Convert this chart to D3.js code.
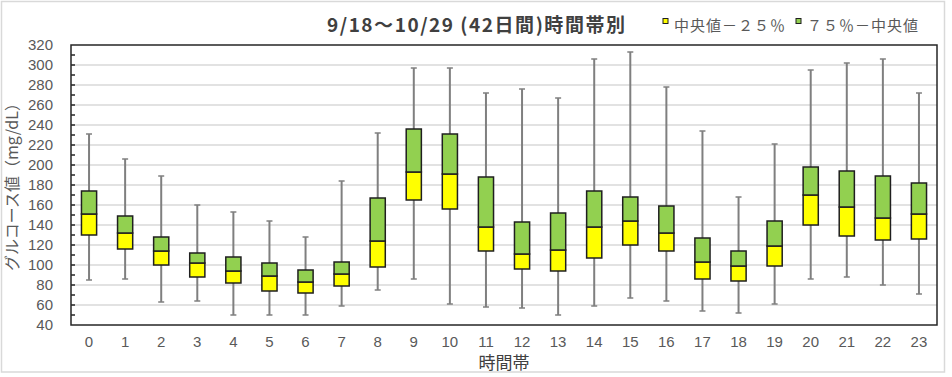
<!DOCTYPE html>
<html>
<head>
<meta charset="utf-8">
<script src="https://cdn.jsdelivr.net/npm/d3@7"></script>
<style>
  body{margin:0;background:#ffffff;}
  svg{display:block;}
  text{font-family:"Noto Sans CJK JP","Noto Sans",sans-serif;}
</style>
</head>
<body>
<div id="chart"></div>
<script>
//glucose by hour of day, box plot (25% / median / 75% with min-max whiskers)

var hours = ["0","1","2","3","4","5","6","7","8","9","10","11","12","13","14","15","16","17","18","19","20","21","22","23"];
var hi_vals  = [231,206,189,160,153,144,128,184,232,297,297,272,276,267,306,313,278,234,168,221,295,302,306,272];
var q3_vals  = [174,149,128,112,108,102, 95,103,167,236,231,188,143,152,174,168,159,127,114,144,198,194,189,182];
var med_vals = [151,132,114,102, 94, 89, 83, 91,124,193,191,138,111,115,138,144,132,103, 99,119,170,158,147,151];
var q1_vals  = [130,116,100, 88, 82, 74, 72, 79, 98,165,156,114, 96, 94,107,120,114, 86, 84, 99,140,129,125,126];
var lo_vals  = [ 85, 86, 63, 64, 50, 50, 50, 59, 75, 86, 61, 58, 57, 50, 59, 67, 64, 54, 52, 61, 86, 88, 80, 71];
var y_ticks = [40,60,80,100,120,140,160,180,200,220,240,260,280,300,320];

var title = "9/18～10/29 (42日間)時間帯別";
var legend_items = [
	{label:"中央値－２５％", color:"#ffff00"},
	{label:"７５％－中央値", color:"#92d050"}
];

var W = 952, H = 377;
var plot = {left:71, right:937, top:45, bottom:325};
var num_font = "'Liberation Sans',Arial,sans-serif";

var svg = d3.select("#chart").append("svg").attr("width",W).attr("height",H);

//outer chart border
svg.append("rect")
	.attr("x",1.5).attr("y",1.5).attr("width",943).attr("height",370.5)
	.attr("fill","#ffffff").attr("stroke","#d9d9d9").attr("stroke-width",1.5);

var rows = hours.map(function(h,i){
	return {hour:h, hi:hi_vals[i], q3:q3_vals[i], med:med_vals[i], q1:q1_vals[i], lo:lo_vals[i]};
});

var x = d3.scaleBand().domain(hours).range([plot.left, plot.right]).padding(0);
var y = d3.scaleLinear().domain([40,320]).range([plot.bottom, plot.top]);
var bw = x.bandwidth()*0.42;
var cx = function(d){return x(d.hour) + x.bandwidth()/2;};

//gridlines
svg.append("g").selectAll("line").data(y_ticks.slice(1,-1)).enter().append("line")
	.attr("x1",plot.left).attr("x2",plot.right)
	.attr("y1",function(d){return y(d)}).attr("y2",function(d){return y(d)})
	.attr("stroke","#d9d9d9").attr("stroke-width",1.5);

//y axis: labels left, minor ticks every 10 pointing inside
var yAxis = d3.axisLeft(y).tickValues(y_ticks).tickSize(0).tickPadding(18);
var gy = svg.append("g").attr("transform","translate("+plot.left+",0)").call(yAxis);
gy.select(".domain").remove();
gy.selectAll("text").attr("fill","#595959").style("font-size","15px")
	.style("font-family",num_font);

svg.append("g").selectAll("line").data(d3.range(50,320,10)).enter().append("line")
	.attr("x1",plot.left).attr("x2",plot.left+4)
	.attr("y1",function(d){return y(d)}).attr("y2",function(d){return y(d)})
	.attr("stroke","#262626").attr("stroke-width",1.5);

//x axis labels
var xAxis = d3.axisBottom(x).tickSize(0).tickPadding(11);
var gx = svg.append("g").attr("transform","translate(0,"+plot.bottom+")").call(xAxis);
gx.select(".domain").remove();
gx.selectAll("text").attr("fill","#595959").style("font-size","15px")
	.style("font-family",num_font);

//boxes
var boxes = svg.append("g").selectAll("g.box").data(rows).enter().append("g").classed("box",true);

boxes.append("line")
	.attr("x1",cx).attr("x2",cx)
	.attr("y1",function(d){return y(d.hi)}).attr("y2",function(d){return y(d.lo)})
	.attr("stroke","#7f7f7f").attr("stroke-width",2);

boxes.selectAll("line.cap").data(function(d){return [d.hi,d.lo].map(function(v){return {hour:d.hour,v:v}})})
	.enter().append("line").classed("cap",true)
	.attr("x1",function(d){return cx(d)-3}).attr("x2",function(d){return cx(d)+3})
	.attr("y1",function(d){return y(d.v)}).attr("y2",function(d){return y(d.v)})
	.attr("stroke","#7f7f7f").attr("stroke-width",1.5);

boxes.append("rect")
	.attr("x",function(d){return cx(d)-bw/2}).attr("width",bw)
	.attr("y",function(d){return y(d.med)})
	.attr("height",function(d){return y(d.q1)-y(d.med)})
	.attr("fill",legend_items[0].color).attr("stroke","#1f1f1f").attr("stroke-width",1.5);

boxes.append("rect")
	.attr("x",function(d){return cx(d)-bw/2}).attr("width",bw)
	.attr("y",function(d){return y(d.q3)})
	.attr("height",function(d){return y(d.med)-y(d.q3)})
	.attr("fill",legend_items[1].color).attr("stroke","#1f1f1f").attr("stroke-width",1.5);

//plot frame
svg.append("rect")
	.attr("x",plot.left).attr("y",plot.top)
	.attr("width",plot.right-plot.left).attr("height",plot.bottom-plot.top)
	.attr("fill","none").attr("stroke","#262626").attr("stroke-width",1.5);

//title
svg.append("text").text(title)
	.attr("x",327).attr("y",32)
	.attr("textLength",298).attr("lengthAdjust","spacing")
	.attr("fill","#404040").style("font-size","19px").style("font-weight","bold");

//legend
var lg = svg.append("g").selectAll("g").data(legend_items).enter().append("g")
	.attr("transform",function(d,i){return "translate("+(i==0 ? 663 : 796)+",0)"});
lg.append("rect").attr("x",0).attr("y",18.5).attr("width",5).attr("height",5)
	.attr("fill",function(d){return d.color}).attr("stroke","#1f1f1f").attr("stroke-width",1);
lg.append("text").text(function(d){return d.label})
	.attr("x",11).attr("y",30.5)
	.attr("textLength",111).attr("lengthAdjust","spacing")
	.attr("fill","#595959").style("font-size","15px");

//axis titles
svg.append("text").text("時間帯")
	.attr("x",(plot.left+plot.right)/2).attr("y",369)
	.attr("text-anchor","middle").attr("fill","#404040").style("font-size","17px");

svg.append("text").text("グルコース値（mg/dL）")
	.attr("transform","translate(18,183) rotate(-90)")
	.attr("text-anchor","middle").attr("fill","#595959").style("font-size","16px");
</script>
</body>
</html>
